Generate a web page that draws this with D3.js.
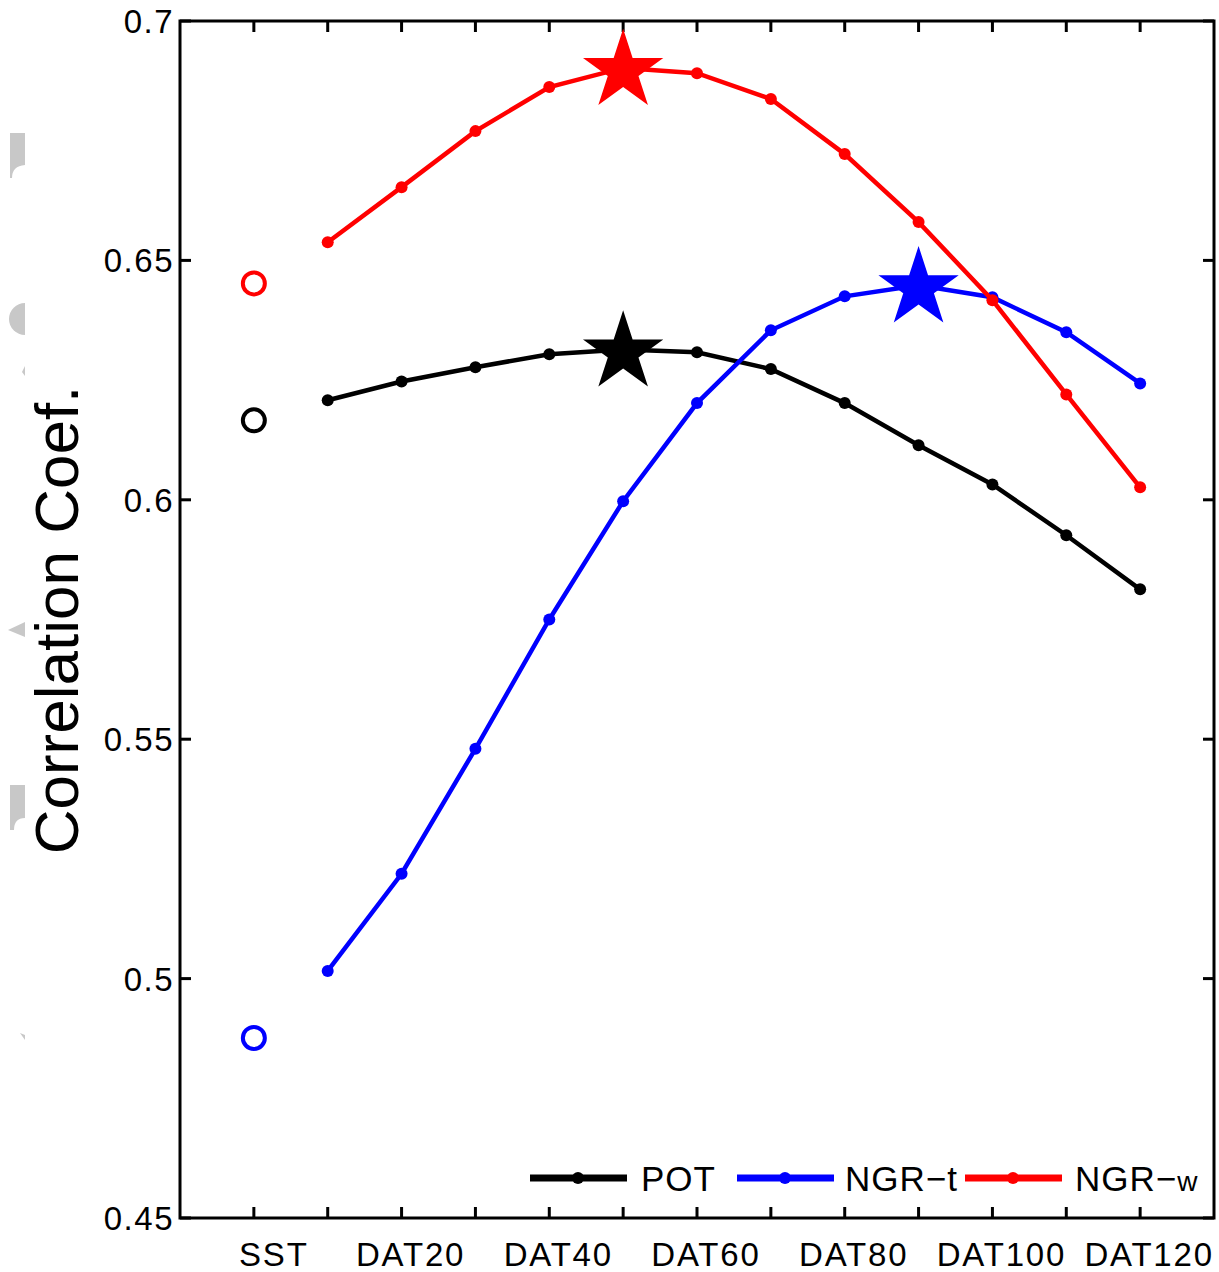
<!DOCTYPE html>
<html><head><meta charset="utf-8">
<script src="https://cdn.jsdelivr.net/npm/d3@7"></script>
<style>body{margin:0;background:#fff}text{font-family:"Liberation Sans",Arial,sans-serif}</style>
</head><body>
<svg id="c" width="1219" height="1272"></svg>
<script>
const xLabels = ["SST","","DAT20","","DAT40","","DAT60","","DAT80","","DAT100","","DAT120"];
const yTicks = [0.45,0.5,0.55,0.6,0.65,0.7];
const seriesNames = ["POT","NGR-t","NGR-w"];
const colors = ["#000000","#0000ff","#ff0000"];
const potValues  = [0.6208,0.6247,0.6277,0.6304,0.6314,0.6308,0.6273,0.6202,0.6114,0.6032,0.5926,0.5813];
const ngrtValues = [0.5016,0.5219,0.5480,0.5750,0.5997,0.6202,0.6354,0.6425,0.6448,0.6423,0.6350,0.6243];
const ngrwValues = [0.6538,0.6653,0.6770,0.6862,0.6902,0.6891,0.6837,0.6722,0.6580,0.6417,0.6220,0.6026];
const sstValues  = [0.6166,0.4876,0.6452];
const starIndex  = [5,9,5];

const svg = d3.select("#c");
const L=180,R=1214,T=21,B=1218;
const x = d3.scaleLinear().domain([-1,13]).range([L,R]);
const y = d3.scaleLinear().domain([0.45,0.7]).range([B,T]);

// faint scan artifacts on the left
const art = svg.append("g").attr("fill","#c8c8c8");
art.append("path").attr("d","M10,133 L25,133 L25,165 Q12,166 12,178 L10,178 Z");
art.append("path").attr("d","M25,303 A16,16 0 0 0 25,335 Z");
art.append("path").attr("d","M22,372 L25,366 L25,376 Z");
art.append("path").attr("d","M8,630 L25,622 L25,637 Z");
art.append("path").attr("d","M10,785 L25,785 L25,818 Q14,818 14,830 L10,830 Z");
art.append("path").attr("d","M20,1033 L25,1035 L25,1040 Z");

// axes (box, inward ticks)
const ax = svg.append("g").attr("stroke","#000").attr("stroke-width",3).attr("fill","none");
ax.append("rect").attr("x",L).attr("y",T).attr("width",R-L).attr("height",B-T);
const tl=11;
xLabels.forEach((lab,i)=>{
  ax.append("line").attr("x1",x(i)).attr("x2",x(i)).attr("y1",B).attr("y2",B-tl);
  ax.append("line").attr("x1",x(i)).attr("x2",x(i)).attr("y1",T).attr("y2",T+tl);
});
yTicks.forEach(v=>{
  ax.append("line").attr("x1",L).attr("x2",L+tl).attr("y1",y(v)).attr("y2",y(v));
  ax.append("line").attr("x1",R).attr("x2",R-tl).attr("y1",y(v)).attr("y2",y(v));
});
const fmt = v => String(+v.toFixed(2));
svg.append("g").selectAll("text").data(yTicks).join("text")
  .attr("x",174).attr("y",d=>y(d)+12).attr("text-anchor","end")
  .attr("font-size",33).attr("letter-spacing",1.5).text(fmt);
svg.append("g").selectAll("text").data(xLabels.map((l,i)=>({l,i})).filter(d=>d.l)).join("text")
  .attr("x",d=>x(d.i)+(d.i===0?20:9)).attr("y",1266).attr("text-anchor","middle")
  .attr("font-size",33).attr("letter-spacing",1.8).text(d=>d.l);
svg.append("text").attr("transform","translate(78,620) rotate(-90)")
  .attr("text-anchor","middle").attr("font-size",62).text("Correlation Coef.");

// series
const allSeries=[potValues,ngrtValues,ngrwValues];
const line = d3.line().x((d,i)=>x(i+1)).y(d=>y(d));
const star = d3.symbol().type(d3.symbolStar).size(2000);
allSeries.forEach((vals,s)=>{
  const g=svg.append("g");
  g.append("path").attr("d",line(vals)).attr("fill","none").attr("stroke",colors[s]).attr("stroke-width",4.5);
  g.selectAll("circle").data(vals).join("circle").attr("cx",(d,i)=>x(i+1)).attr("cy",d=>y(d)).attr("r",6).attr("fill",colors[s]);
  const k=starIndex[s];
  g.append("path").attr("d",star()).attr("fill",colors[s])
    .attr("transform",`translate(${x(k)},${y(vals[k-1])+3})`);
  g.append("circle").attr("cx",x(0)).attr("cy",y(sstValues[s])).attr("r",11)
    .attr("fill","none").attr("stroke",colors[s]).attr("stroke-width",4);
});

// legend
const legX=[530,737,965], legTextX=[641,845,1075], legY=1178;
const legLabels=["POT","NGR\u2212t","NGR\u2212"];
seriesNames.forEach((n,s)=>{
  svg.append("line").attr("x1",legX[s]).attr("x2",legX[s]+97).attr("y1",legY).attr("y2",legY)
    .attr("stroke",colors[s]).attr("stroke-width",7);
  svg.append("circle").attr("cx",legX[s]+48).attr("cy",legY).attr("r",6).attr("fill",colors[s]);
  const t=svg.append("text").attr("x",legTextX[s]).attr("y",legY+13).attr("font-size",35).attr("letter-spacing",1).text(legLabels[s]);
  if(s===2) t.append("tspan").attr("font-size",28).text("w");
});
</script>
</body></html>
